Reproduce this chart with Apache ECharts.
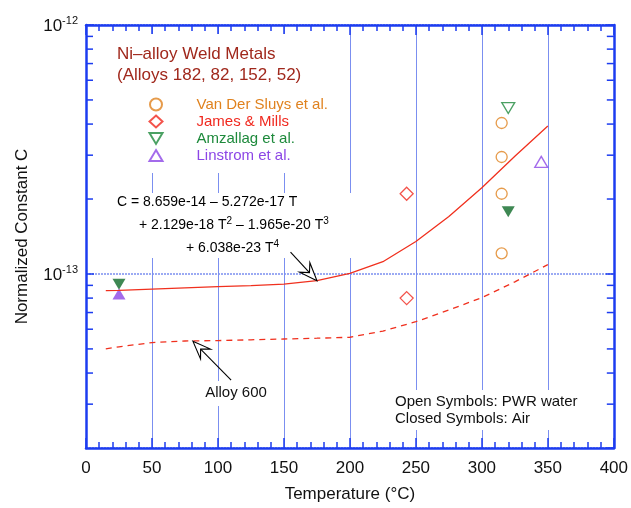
<!DOCTYPE html>
<html>
<head>
<meta charset="utf-8">
<script src="https://cdn.jsdelivr.net/npm/echarts@6/dist/echarts.min.js"></script>
<style>
html, body { margin: 0; padding: 0; background: #fff; }
#chart { width: 631px; height: 508px; }
</style>
</head>
<body>
<div id="chart"></div>
<script>
// 数据
var curveT = [15, 25, 50, 75, 100, 125, 150, 175, 200, 225, 250, 275, 300, 325, 350];
var weldC = [8.57e-14, 8.6e-14, 8.7e-14, 8.8e-14, 8.9e-14, 8.98e-14, 9.1e-14, 9.4e-14, 1.005e-13, 1.12e-13, 1.35e-13, 1.7e-13, 2.22e-13, 2.97e-13, 3.93e-13];
var alloy600C = [5.0e-14, 5.1e-14, 5.3e-14, 5.38e-14, 5.4e-14, 5.44e-14, 5.48e-14, 5.52e-14, 5.57e-14, 5.9e-14, 6.43e-14, 7.17e-14, 8.03e-14, 9.3e-14, 1.09e-13];

var vdsWater = [[315, 4.04e-13], [315, 2.95e-13], [315, 2.1e-13], [315, 1.21e-13]];
var jamesWater = [[243, 2.1e-13], [243, 8.0e-14]];
var amzWater = [[320, 4.64e-13]];
var amzAir = [[320, 1.78e-13], [25, 9.1e-14]];
var linWater = [[345, 2.82e-13]];
var linAir = [[25, 8.3e-14]];

var legendNames = ['Van Der Sluys et al.', 'James & Mills', 'Amzallag et al.', 'Linstrom et al.'];
var legendColors = ['#e0821e', '#f0281e', '#1e8a3c', '#8c46e6'];
var yMinorTicks = [3e-14, 4e-14, 5e-14, 6e-14, 7e-14, 8e-14, 9e-14, 2e-13, 3e-13, 4e-13, 5e-13, 6e-13, 7e-13, 8e-13, 9e-13];

// 注释箭头 (tail -> tip, in data units)
var arrowEq = [[155, 1.225e-13], [175, 9.4e-14]];
var arrow600 = [[110, 3.75e-14], [81, 5.37e-14]];

var FONT = '"Liberation Sans", Arial, sans-serif';
var BLUE = '#1c3cf0';
var GRID = '#7b8ff0';
var RED = '#f0301e';
var TRI_DOWN = 'path://M0,0 L12,0 L6,10 Z';
var TRI_UP = 'path://M6,0 L12,10 L0,10 Z';

var chart = echarts.init(document.getElementById('chart'));

function powLabel(v) {
	var e = Math.log10(v);
	if (Math.abs(e - Math.round(e)) > 1e-6) return '';
	return '{b|10}{s|' + Math.round(e) + '}';
}

var xBase = {
	type: 'value', min: 0, max: 400, interval: 50,
	axisLine: { show: true, onZero: false, lineStyle: { color: BLUE, width: 2.5 } },
	axisTick: { show: true, inside: true, length: 10, lineStyle: { color: BLUE, width: 1.5 } },
	minorTick: { show: true, splitNumber: 5, length: 6, lineStyle: { color: BLUE, width: 1.5 } }
};
var yBase = {
	type: 'log', logBase: 10, min: 2e-14, max: 1e-12,
	axisLine: { show: true, onZero: false, lineStyle: { color: BLUE, width: 2.5 } },
	axisTick: { show: true, inside: true, length: 8, lineStyle: { color: BLUE, width: 1.5 } }
};

var option = {
	animation: false,
	backgroundColor: '#fff',
	grid: { left: 86, right: 14, top: 25, bottom: 59 },
	xAxis: [
		Object.assign({}, xBase, {
			position: 'bottom',
			name: 'Temperature (°C)', nameLocation: 'middle', nameGap: 38,
			nameTextStyle: { fontFamily: FONT, fontSize: 17, color: '#111' },
			axisLabel: { fontFamily: FONT, fontSize: 17, color: '#111', margin: 12 },
			splitLine: { show: true, lineStyle: { color: GRID, width: 1 } }
		}),
		Object.assign({}, xBase, { position: 'top', axisLabel: { show: false }, splitLine: { show: false } })
	],
	yAxis: [
		Object.assign({}, yBase, {
			position: 'left',
			name: 'Normalized Constant C', nameLocation: 'middle', nameGap: 55, nameRotate: 90,
			nameTextStyle: { fontFamily: FONT, fontSize: 17, color: '#111' },
			axisLabel: {
				showMinLabel: false, margin: 8, formatter: powLabel,
				rich: {
					b: { fontFamily: FONT, fontSize: 17, color: '#111', verticalAlign: 'bottom' },
					s: { fontFamily: FONT, fontSize: 11, color: '#111', verticalAlign: 'bottom', padding: [0, 0, 9, 0] }
				}
			},
			splitLine: { show: true, lineStyle: { color: GRID, width: 1.5, type: [2, 1] } }
		}),
		Object.assign({}, yBase, { position: 'right', axisLabel: { show: false }, splitLine: { show: false } })
	],
	legend: {
		data: legendNames.map(function (n, i) { return { name: n, textStyle: { color: legendColors[i] } }; }),
		orient: 'vertical', left: 143.5, top: 92, itemWidth: 13, itemHeight: 12, itemGap: 2,
		selectedMode: false,
		textStyle: { fontFamily: FONT, fontSize: 15, padding: [0, 0, 0, 29] }
	},
	series: [
		{ type: 'line', name: 'weld fit', data: curveT.map(function (t, i) { return [t, weldC[i]]; }),
			showSymbol: false, lineStyle: { color: RED, width: 1.3 }, z: 3 },
		{ type: 'line', name: 'Alloy 600', data: curveT.map(function (t, i) { return [t, alloy600C[i]]; }),
			showSymbol: false, lineStyle: { color: RED, width: 1.3, type: [6, 5] }, z: 3 },
		{ type: 'scatter', name: legendNames[0], data: vdsWater, symbol: 'circle', symbolSize: 11,
			itemStyle: { color: '#fff', borderColor: legendColors[0], borderWidth: 1.3 } },
		{ type: 'scatter', name: legendNames[1], data: jamesWater, symbol: 'diamond', symbolSize: [13, 13],
			itemStyle: { color: '#fff', borderColor: legendColors[1], borderWidth: 1.3 } },
		{ type: 'scatter', name: legendNames[2], data: amzWater, symbol: TRI_DOWN, symbolSize: [13, 11],
			itemStyle: { color: '#fff', borderColor: legendColors[2], borderWidth: 1.3 } },
		{ type: 'scatter', name: legendNames[3], data: linWater, symbol: TRI_UP, symbolSize: [13, 11],
			itemStyle: { color: '#fff', borderColor: legendColors[3], borderWidth: 1.3 } },
		{ type: 'scatter', name: 'Amzallag air', data: amzAir, symbol: TRI_DOWN, symbolSize: [13, 11],
			itemStyle: { color: '#0e6a28' } },
		{ type: 'scatter', name: 'Linstrom air', data: linAir, symbol: TRI_UP, symbolSize: [13, 11],
			itemStyle: { color: '#8c46e6' } },
		{ // y 轴次刻度
			type: 'custom', name: 'minor ticks', silent: true, clip: false,
			data: yMinorTicks.map(function (v) { return [0, v]; }),
			renderItem: function (params, api) {
				var l = api.coord([0, api.value(1)]);
				var r = api.coord([400, api.value(1)]);
				var st = { stroke: BLUE, lineWidth: 1.5 };
				return { type: 'group', children: [
					{ type: 'line', shape: { x1: l[0], y1: l[1], x2: l[0] + 7, y2: l[1] }, style: st },
					{ type: 'line', shape: { x1: r[0], y1: r[1], x2: r[0] - 7, y2: r[1] }, style: st }
				] };
			}
		}
	]
};
chart.setOption(option);

// 箭头
function arrow(from, to) {
	var a = chart.convertToPixel({ gridIndex: 0 }, from);
	var b = chart.convertToPixel({ gridIndex: 0 }, to);
	var dx = b[0] - a[0], dy = b[1] - a[1];
	var len = Math.sqrt(dx * dx + dy * dy);
	var ux = dx / len, uy = dy / len, px = -uy, py = ux;
	var L = 18, W = 7, N = 11;
	var base = [b[0] - ux * L, b[1] - uy * L];
	var notch = [b[0] - ux * N, b[1] - uy * N];
	return [
		{ type: 'line', z: 6, shape: { x1: a[0], y1: a[1], x2: notch[0], y2: notch[1] }, style: { stroke: '#000', lineWidth: 1.1 } },
		{ type: 'polygon', z: 6, shape: { points: [b, [base[0] + px * W, base[1] + py * W], notch, [base[0] - px * W, base[1] - py * W]] },
			style: { fill: '#fff', stroke: '#000', lineWidth: 1.1 } }
	];
}

var txt = { fontFamily: FONT, fill: '#111' };
var eqRich = {
	t: { fontFamily: FONT, fontSize: 14, color: '#111' },
	s: { fontFamily: FONT, fontSize: 10, color: '#111', verticalAlign: 'bottom', padding: [0, 0, 7, 0] }
};
var graphics = [
	// 白底遮挡网格线
	{ type: 'rect', z: 1, shape: { x: 96, y: 34, width: 250, height: 139 }, style: { fill: '#fff' } },
	{ type: 'rect', z: 1, shape: { x: 105, y: 193, width: 252, height: 65 }, style: { fill: '#fff' } },
	{ type: 'rect', z: 1, shape: { x: 200, y: 381, width: 72, height: 25 }, style: { fill: '#fff' } },
	{ type: 'rect', z: 1, shape: { x: 390, y: 390, width: 212, height: 40 }, style: { fill: '#fff' } },
	{ type: 'text', z: 5, style: Object.assign({ text: 'Ni–alloy Weld Metals', x: 117, y: 54, fontSize: 17, verticalAlign: 'middle' }, txt, { fill: '#a0281c' }) },
	{ type: 'text', z: 5, style: Object.assign({ text: '(Alloys 182, 82, 152, 52)', x: 117, y: 75, fontSize: 17, verticalAlign: 'middle' }, txt, { fill: '#a0281c' }) },
	{ type: 'text', z: 5, style: { text: '{t|C = 8.659e-14 – 5.272e-17 T}', x: 117, y: 202, verticalAlign: 'middle', rich: eqRich } },
	{ type: 'text', z: 5, style: { text: '{t|+ 2.129e-18 T}{s|2}{t| – 1.965e-20 T}{s|3}', x: 139, y: 225, verticalAlign: 'middle', rich: eqRich } },
	{ type: 'text', z: 5, style: { text: '{t|+ 6.038e-23 T}{s|4}', x: 186, y: 248, verticalAlign: 'middle', rich: eqRich } },
	{ type: 'text', z: 5, style: Object.assign({ text: 'Alloy 600', x: 236, y: 393, fontSize: 15, align: 'center', verticalAlign: 'middle' }, txt) },
	{ type: 'text', z: 5, style: Object.assign({ text: 'Open Symbols: PWR water', x: 395, y: 402, fontSize: 15, verticalAlign: 'middle' }, txt) },
	{ type: 'text', z: 5, style: Object.assign({ text: 'Closed Symbols: Air', x: 395, y: 419, fontSize: 15, verticalAlign: 'middle' }, txt) }
].concat(arrow(arrowEq[0], arrowEq[1]), arrow(arrow600[0], arrow600[1]));

chart.setOption({ graphic: graphics });
</script>
</body>
</html>
